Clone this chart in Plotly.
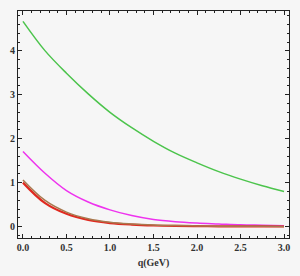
import plotly.graph_objects as go

q = [0.0, 0.25, 0.5, 0.75, 1.0, 1.25, 1.5, 1.75, 2.0, 2.25, 2.5, 2.75, 3.0]
green = [4.67, 4.01, 3.49, 3.02, 2.60, 2.25, 1.94, 1.67, 1.45, 1.25, 1.08, 0.93, 0.80]
magenta = [1.71, 1.22, 0.82, 0.56, 0.38, 0.25, 0.16, 0.11, 0.08, 0.06, 0.04, 0.03, 0.02]
brown = [1.06, 0.60, 0.33, 0.18, 0.10, 0.06, 0.035, 0.022, 0.015, 0.010, 0.008, 0.005, 0.004]
red = [1.00, 0.54, 0.29, 0.15, 0.08, 0.045, 0.025, 0.015, 0.010, 0.006, 0.004, 0.003, 0.002]

xticks = [0.0, 0.5, 1.0, 1.5, 2.0, 2.5, 3.0]
yticks = [0, 1, 2, 3, 4]

fig = go.Figure()
fig.add_trace(go.Scatter(x=q, y=green, mode="lines", line=dict(color="#4cc44c", width=1.5, shape="spline")))
fig.add_trace(go.Scatter(x=q, y=magenta, mode="lines", line=dict(color="#ee33ee", width=1.5, shape="spline")))
fig.add_trace(go.Scatter(x=q, y=red, mode="lines", line=dict(color="#e02a20", width=2.2, shape="spline")))
fig.add_trace(go.Scatter(x=q, y=brown, mode="lines", line=dict(color="#a8784e", width=1.5, shape="spline")))

tf = dict(family="Liberation Serif", size=10, color="#333333", weight="bold")
fig.update_layout(
    width=300, height=276,
    margin=dict(l=17, r=11, t=10, b=35),
    paper_bgcolor="#f6f6f6", plot_bgcolor="#f6f6f6",
    showlegend=False,
    xaxis=dict(range=[-0.057, 3.057], tickvals=xticks, ticktext=[f"{v:.1f}" for v in xticks],
               ticks="inside", ticklen=4, tickcolor="#222", mirror="allticks", showline=True,
               linecolor="#222", linewidth=1, showgrid=False, zeroline=False, tickfont=tf,
               minor=dict(dtick=0.1, ticks="inside", ticklen=2, tickcolor="#222", showgrid=False),
               title=dict(text="q(GeV)", font=tf, standoff=6)),
    yaxis=dict(range=[-0.26, 4.906], tickvals=yticks, ticktext=[str(v) for v in yticks],
               ticks="inside", ticklen=4, tickcolor="#222", mirror="allticks", showline=True,
               linecolor="#222", linewidth=1, showgrid=False, zeroline=False, tickfont=tf,
               minor=dict(dtick=0.2, ticks="inside", ticklen=2, tickcolor="#222", showgrid=False)),
)
fig.write_html("out.html")
